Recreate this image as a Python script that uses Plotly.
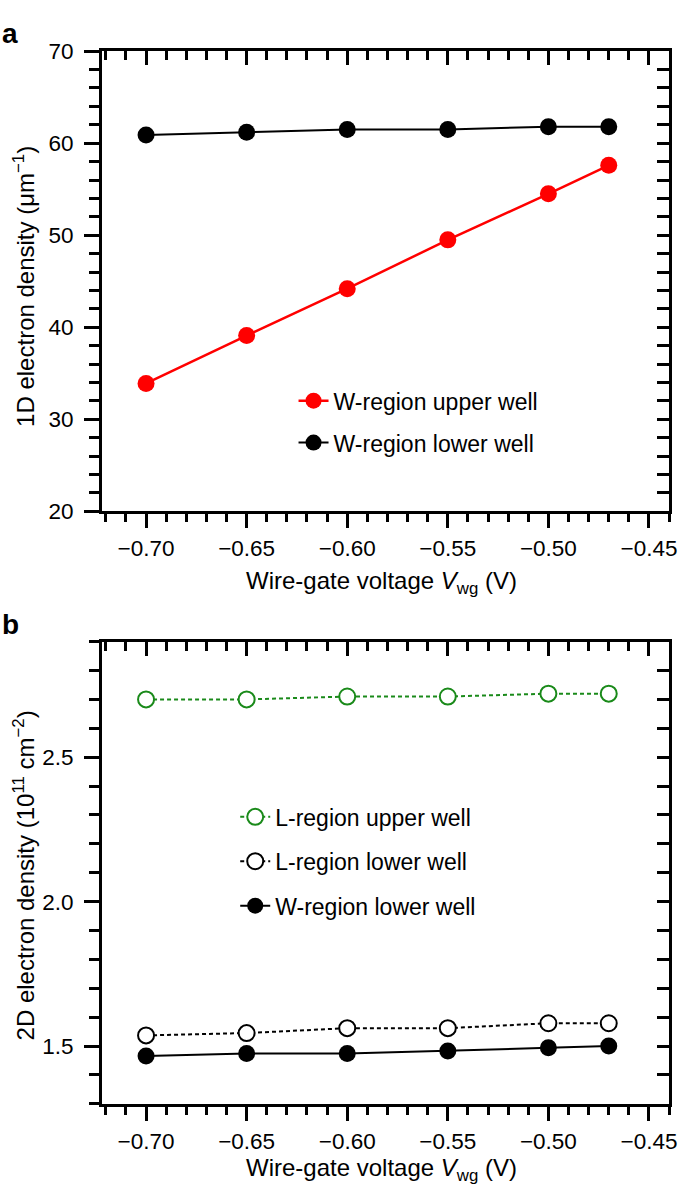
import plotly.graph_objects as go

# ---------------- data ----------------
vwg = [-0.70, -0.65, -0.60, -0.55, -0.50, -0.47]
w_upper_1d = [33.9, 39.1, 44.2, 49.5, 54.5, 57.6]
w_lower_1d = [60.9, 61.2, 61.5, 61.5, 61.8, 61.8]
l_upper_2d = [2.70, 2.70, 2.71, 2.71, 2.72, 2.72]
l_lower_2d = [1.537, 1.545, 1.562, 1.562, 1.579, 1.579]
w_lower_2d = [1.466, 1.474, 1.474, 1.483, 1.494, 1.500]

W, H = 685, 1204
FONT = "Liberation Sans, Arial, Helvetica, sans-serif"
GREEN = "#1a8a1a"
TICK_FS = 22.5
TITLE_FS = 24
LEG_FS = 23

def px_x(p):
    return p / W

def px_y(p):
    return 1 - p / H

xdom = [px_x(103), px_x(677)]
ydom_top = [px_y(510), px_y(40)]
ydom_bot = [px_y(1115), px_y(643)]
xrange_ = [-0.722, -0.440]

fig = go.Figure()

# top panel (first trace on the mirror axes so that the inside ticks get drawn)
fig.add_trace(go.Scatter(x=vwg, y=w_upper_1d, mode="lines+markers", name="W-region upper well",
                         line=dict(color="#ff0000", width=2.5),
                         marker=dict(color="#ff0000", size=17, symbol="circle"),
                         xaxis="x3", yaxis="y3", legend="legend", legendgroup="a1"))
fig.add_trace(go.Scatter(x=vwg, y=w_lower_1d, mode="lines+markers", name="W-region lower well",
                         line=dict(color="black", width=2),
                         marker=dict(color="black", size=17, symbol="circle"),
                         xaxis="x", yaxis="y", legend="legend", legendgroup="a2"))

# bottom panel
fig.add_trace(go.Scatter(x=vwg, y=l_upper_2d, mode="lines+markers", name="L-region upper well",
                         line=dict(color=GREEN, width=2, dash="4px,3px"),
                         marker=dict(color="white", size=16, symbol="circle",
                                     line=dict(color=GREEN, width=2)),
                         xaxis="x4", yaxis="y4", legend="legend2", legendgroup="b1"))
fig.add_trace(go.Scatter(x=vwg, y=l_lower_2d, mode="lines+markers", name="L-region lower well",
                         line=dict(color="black", width=2, dash="4px,3px"),
                         marker=dict(color="white", size=16, symbol="circle",
                                     line=dict(color="black", width=2)),
                         xaxis="x2", yaxis="y2", legend="legend2", legendgroup="b2"))
fig.add_trace(go.Scatter(x=vwg, y=w_lower_2d, mode="lines+markers", name="W-region lower well",
                         line=dict(color="black", width=2),
                         marker=dict(color="black", size=17, symbol="circle"),
                         xaxis="x2", yaxis="y2", legend="legend2", legendgroup="b3"))

tickfont = dict(family=FONT, size=TICK_FS, color="black")

def xmain(anchor):
    return dict(domain=xdom, anchor=anchor, range=xrange_, tick0=-0.70, dtick=0.05,
                tickformat=".2f", ticks="outside", ticklen=14, tickwidth=2.5, tickcolor="black",
                minor=dict(ticks="outside", ticklen=8, tickwidth=2.5, tickcolor="black", dtick=0.01, tick0=-0.70),
                showline=True, linewidth=2.5, linecolor="black", mirror=True,
                showgrid=False, zeroline=False, tickfont=tickfont, ticklabelstandoff=1,
                ticklabeloverflow="allow")

def xtop(overlay, anchor):
    return dict(domain=xdom, anchor=anchor, overlaying=overlay, side="top", range=xrange_,
                tick0=-0.70, dtick=0.05, ticks="inside", ticklen=14, tickwidth=2.5, tickcolor="black",
                minor=dict(ticks="inside", ticklen=9, tickwidth=2.5, tickcolor="black", dtick=0.01, tick0=-0.70),
                showticklabels=False, showline=False, showgrid=False, zeroline=False)

def ymain(anchor, dom, rng, dtick, mdtick, fmt):
    return dict(domain=dom, anchor=anchor, range=rng, dtick=dtick, tick0=0,
                tickformat=fmt, ticks="outside", ticklen=15, tickwidth=2.5, tickcolor="black",
                minor=dict(ticks="outside", ticklen=10, tickwidth=2.5, tickcolor="black", dtick=mdtick, tick0=0),
                showline=True, linewidth=2.5, linecolor="black", mirror=True,
                showgrid=False, zeroline=False, tickfont=tickfont, ticklabelstandoff=6)

def yright(overlay, anchor, dom, rng, dtick, mdtick):
    return dict(domain=dom, anchor=anchor, overlaying=overlay, side="right", range=rng,
                dtick=dtick, tick0=0, ticks="inside", ticklen=12, tickwidth=2.5, tickcolor="black",
                minor=dict(ticks="inside", ticklen=12, tickwidth=2.5, tickcolor="black", dtick=mdtick, tick0=0),
                showticklabels=False, showline=False, showgrid=False, zeroline=False)

fig.update_layout(
    width=W, height=H, autosize=False,
    margin=dict(l=0, r=0, t=0, b=0),
    paper_bgcolor="white", plot_bgcolor="white",
    font=dict(family=FONT, size=TICK_FS, color="black"),
    xaxis=xmain("y"),
    yaxis=ymain("x", ydom_top, [20, 70], 10, 2, "d"),
    xaxis2=xmain("y2"),
    yaxis2=ymain("x2", ydom_bot, [1.3, 2.9], 0.5, 0.1, ".1f"),
    xaxis3=xtop("x", "y"),
    yaxis3=yright("y", "x", ydom_top, [20, 70], 10, 2),
    xaxis4=xtop("x2", "y2"),
    yaxis4=yright("y2", "x2", ydom_bot, [1.3, 2.9], 0.5, 0.1),
    legend=dict(x=px_x(297), y=px_y(375), xanchor="left", yanchor="top",
                bgcolor="rgba(0,0,0,0)", borderwidth=0, tracegroupgap=9,
                font=dict(family=FONT, size=LEG_FS, color="black")),
    legend2=dict(x=px_x(238), y=px_y(800), xanchor="left", yanchor="top",
                 bgcolor="rgba(0,0,0,0)", borderwidth=0, tracegroupgap=11.5,
                 font=dict(family=FONT, size=LEG_FS, color="black")),
    showlegend=True,
)

ann = []
ann.append(dict(text="<b>a</b>", x=px_x(10), y=px_y(22), xref="paper", yref="paper",
                showarrow=False, font=dict(family=FONT, size=28), xanchor="center", yanchor="middle"))
ann.append(dict(text="<b>b</b>", x=px_x(11), y=px_y(625), xref="paper", yref="paper",
                showarrow=False, font=dict(family=FONT, size=28), xanchor="center", yanchor="middle"))
ann.append(dict(text="1D electron density (μm<sup>−1</sup>)", x=px_x(24), y=px_y(280),
                xref="paper", yref="paper", textangle=-90, showarrow=False,
                font=dict(family=FONT, size=TITLE_FS), xanchor="center", yanchor="middle"))
ann.append(dict(text="2D electron density (10<sup>11</sup> cm<sup>−2</sup>)", x=px_x(24),
                y=px_y(882),
                xref="paper", yref="paper", textangle=-90, showarrow=False,
                font=dict(family=FONT, size=TITLE_FS), xanchor="center", yanchor="middle"))
for yc in (583, 1182):
    ann.append(dict(text="Wire-gate voltage <i>V</i><sub>wg</sub> (V)", x=px_x(386),
                    y=px_y(yc), xref="paper", yref="paper", showarrow=False,
                    font=dict(family=FONT, size=TITLE_FS), xanchor="center", yanchor="middle"))
fig.update_layout(annotations=ann)

# remove the default page margin so the figure sits at the window's top-left corner
fig.write_html("out.html", config={"displayModeBar": False},
               post_script="document.body.style.margin='0px';document.body.style.overflow='hidden';")
